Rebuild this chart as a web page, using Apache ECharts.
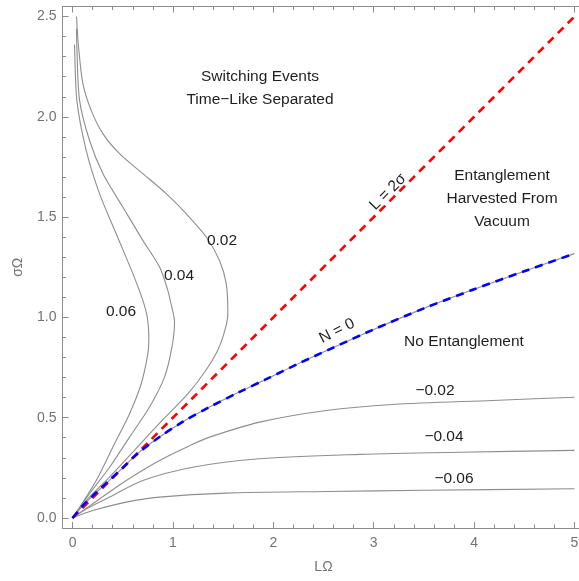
<!DOCTYPE html>
<html><head><meta charset="utf-8">
<script src="https://cdn.jsdelivr.net/npm/echarts@6/dist/echarts.min.js"></script>
<style>html,body{margin:0;padding:0;background:#fff}#c{width:579px;height:581px}</style>
</head><body><div id="c"></div>
<script>
// ---- tick values ----
const xMajor = [0, 1, 2, 3, 4, 5];
const xMinor = [0.2, 0.4, 0.6, 0.8, 1.2, 1.4, 1.6, 1.8, 2.2, 2.4, 2.6, 2.8, 3.2, 3.4, 3.6, 3.8, 4.2, 4.4, 4.6, 4.8];
const yMajor = [0, 0.5, 1, 1.5, 2, 2.5];
const yMinor = [0.1, 0.2, 0.3, 0.4, 0.6, 0.7, 0.8, 0.9, 1.1, 1.2, 1.3, 1.4, 1.6, 1.7, 1.8, 1.9, 2.1, 2.2, 2.3, 2.4];

// ---- contour N = 0.02 ----
const c002X = [0, 0.17, 0.37, 0.63, 0.90, 1.15, 1.32, 1.45, 1.52, 1.547, 1.531, 1.464, 1.332, 1.132, 0.933, 0.700, 0.468, 0.302, 0.186, 0.103, 0.060, 0.045, 0.040];
const c002Y = [0, 0.105, 0.205, 0.345, 0.490, 0.620, 0.730, 0.840, 0.940, 1.020, 1.168, 1.284, 1.401, 1.517, 1.617, 1.717, 1.816, 1.916, 2.032, 2.166, 2.348, 2.450, 2.500];
// ---- contour N = 0.04 ----
const c004X = [0, 0.169, 0.369, 0.568, 0.767, 0.916, 0.990, 1.016, 0.973, 0.949, 0.867, 0.700, 0.501, 0.302, 0.169, 0.070, 0.043, 0.040];
const c004Y = [0, 0.121, 0.253, 0.403, 0.553, 0.702, 0.852, 0.975, 1.085, 1.135, 1.251, 1.384, 1.550, 1.717, 1.883, 2.082, 2.348, 2.440];
// ---- contour N = 0.06 ----
const c006X = [0, 0.236, 0.401, 0.568, 0.684, 0.750, 0.760, 0.745, 0.700, 0.601, 0.435, 0.269, 0.136, 0.043, 0.020];
const c006Y = [0, 0.187, 0.353, 0.520, 0.669, 0.819, 0.900, 1.000, 1.085, 1.218, 1.417, 1.617, 1.833, 2.082, 2.360];
// ---- contour N = -0.02 ----
const cm002X = [0, 0.202, 0.535, 0.867, 1.165, 1.365, 1.863, 2.527, 3.190, 4.186, 5.0];
const cm002Y = [0, 0.071, 0.187, 0.287, 0.360, 0.403, 0.478, 0.536, 0.566, 0.586, 0.602];
// ---- contour N = -0.04 ----
const cm004X = [0, 0.150, 0.369, 0.700, 1.198, 1.863, 2.859, 3.855, 5.0];
const cm004Y = [0, 0.048, 0.104, 0.187, 0.253, 0.295, 0.317, 0.328, 0.337];
// ---- contour N = -0.06 ----
const cm006X = [0, 0.202, 0.535, 0.867, 1.531, 2.527, 3.500, 5.0];
const cm006Y = [0, 0.037, 0.079, 0.104, 0.124, 0.132, 0.138, 0.146];
// ---- contour N = 0 ----
const c0X = [0, 0.1, 0.2, 0.35, 0.5, 0.65, 0.87, 1.1, 1.365, 1.65, 1.93, 2.26, 2.6, 3.0, 3.5, 4.0, 4.5, 5.0];
const c0Y = [0, 0.06, 0.11, 0.18, 0.25, 0.322, 0.405, 0.48, 0.553, 0.625, 0.692, 0.772, 0.85, 0.94, 1.045, 1.14, 1.23, 1.318];
// ---- light-cone line L = 2 sigma ----
const lcX = [0, 5];
const lcY = [0, 2.5];

const pairs = (xs, ys) => xs.map((x, i) => [x, ys[i]]);

const axisCol = '#8c8c8c';
const labCol = '#737373';
const txtCol = '#1e1e1e';
const grayLine = {color: '#8e8e8e', width: 1.1};

function contour(xs, ys) {
  return {type: 'line', data: pairs(xs, ys), showSymbol: false, smooth: 0.3,
          lineStyle: grayLine, silent: true, z: 2};
}

const chart = echarts.init(document.getElementById('c'), null, {renderer: 'canvas'});
const gridDef = {left: 62.5, top: 6.5, width: 522, height: 521.5, containLabel: false, outerBoundsMode: 'none'};

function xAx(pos, ticks, len, showLine, showLabel, extra) {
  return Object.assign({
    type: 'value', position: pos, min: -0.1, max: 5.1, gridIndex: 0,
    splitLine: {show: false},
    axisLine: {show: showLine, onZero: false, lineStyle: {color: axisCol, width: 1}},
    axisTick: {show: true, inside: true, length: len, customValues: ticks, lineStyle: {color: axisCol}},
    axisLabel: showLabel ? {show: true, customValues: xMajor, color: labCol, fontSize: 14,
      fontFamily: 'Liberation Sans, Arial, sans-serif', margin: 8,
      formatter: v => String(Math.round(v))} : {show: false}
  }, extra || {});
}
function yAx(pos, ticks, len, showLine, showLabel, extra) {
  return Object.assign({
    type: 'value', position: pos, min: -0.05, max: 2.55, gridIndex: 0,
    splitLine: {show: false},
    axisLine: {show: showLine, onZero: false, lineStyle: {color: axisCol, width: 1}},
    axisTick: {show: true, inside: true, length: len, customValues: ticks, lineStyle: {color: axisCol}},
    axisLabel: showLabel ? {show: true, customValues: yMajor, color: labCol, fontSize: 14,
      fontFamily: 'Liberation Sans, Arial, sans-serif', margin: 6,
      formatter: v => v.toFixed(1)} : {show: false}
  }, extra || {});
}

const font = '15.5px "Liberation Sans", Arial, sans-serif';
const font15 = '15.5px "Liberation Sans", Arial, sans-serif';
function txt(t, x, y, f, rot) {
  return {type: 'text', x: x, y: y, rotation: rot || 0, z: 20, silent: true,
    style: {text: t, x: 0, y: 0, align: 'center', verticalAlign: 'middle', font: f || font, fill: txtCol, lineHeight: 23}};
}

chart.setOption({
  animation: false,
  backgroundColor: '#ffffff',
  grid: gridDef,
  xAxis: [
    xAx('bottom', xMajor, 6, true, true, {name: 'LΩ', nameLocation: 'middle', nameGap: 32,
      nameTextStyle: {color: labCol, fontSize: 14, fontFamily: 'Liberation Sans, Arial, sans-serif'}}),
    xAx('bottom', xMinor, 3.5, false, false),
    xAx('top', xMajor, 6, true, false),
    xAx('top', xMinor, 3.5, false, false)
  ],
  yAxis: [
    yAx('left', yMajor, 6, true, true, {name: 'σΩ', nameLocation: 'middle', nameGap: 37, nameRotate: 90,
      nameTextStyle: {color: labCol, fontSize: 14, fontFamily: 'Liberation Sans, Arial, sans-serif'}}),
    yAx('left', yMinor, 3.5, false, false)
  ],
  series: [
    contour(c002X, c002Y),
    contour(c004X, c004Y),
    contour(c006X, c006Y),
    contour(cm002X, cm002Y),
    contour(cm004X, cm004Y),
    contour(cm006X, cm006Y),
    contour(c0X, c0Y),
    {type: 'line', data: pairs(lcX, lcY), showSymbol: false, silent: true, z: 4,
      lineStyle: {color: '#ff0000', width: 2.6, type: [8, 6]}},
    {type: 'line', data: pairs(c0X, c0Y), showSymbol: false, smooth: 0.3, silent: true, z: 5,
      lineStyle: {color: '#0000ff', width: 2.6, type: [8, 6]}}
  ],
  graphic: [
    txt('Switching Events\nTime−Like Separated', 260, 88),
    txt('Entanglement\nHarvested From\nVacuum', 502, 199),
    txt('No Entanglement', 464, 342),
    txt('0.02', 222, 241, font15),
    txt('0.04', 179, 276, font15),
    txt('0.06', 121, 312, font15),
    txt('−0.02', 435, 391, font15),
    txt('−0.04', 444, 437, font15),
    txt('−0.06', 454, 479, font15),
    txt('N = 0', 337, 331, font15, 0.47),
    txt('L = 2σ', 388, 192, font15, Math.PI / 4)
  ]
});
</script>
</body></html>
